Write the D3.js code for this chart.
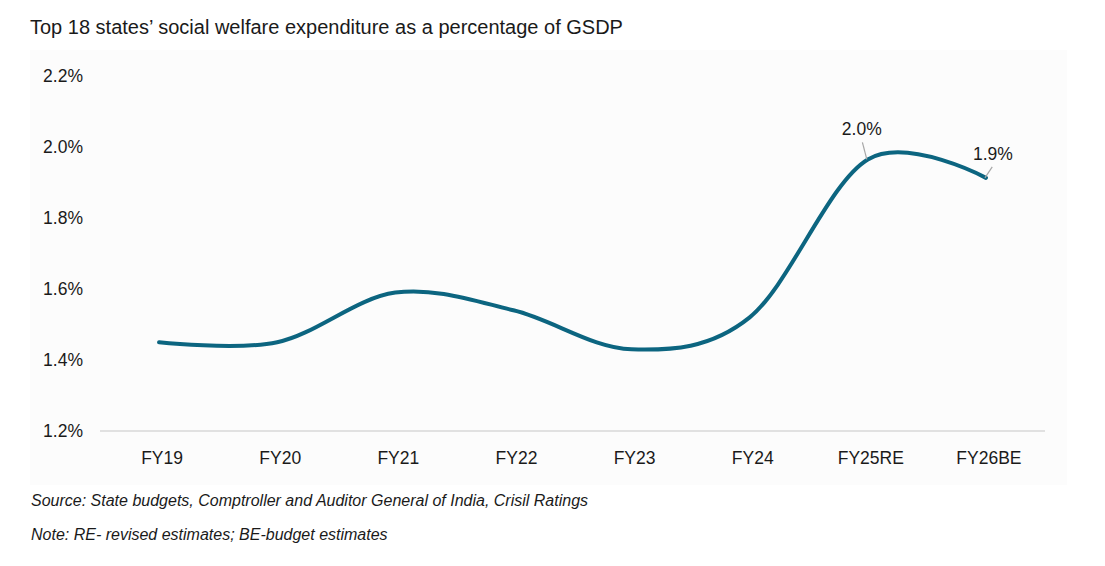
<!DOCTYPE html>
<html lang="en">
<head>
<meta charset="UTF-8" />
<title>Social welfare expenditure</title>
<style>
  html, body {
    margin: 0;
    padding: 0;
    background: #ffffff;
    font-family: Arial, "Liberation Sans", sans-serif;
  }
  svg text { font-family: Arial, "Liberation Sans", sans-serif; fill: #1a1a1a; }
  .grid line { stroke: #d9d9d9; stroke-width: 1.3px; }
  .line { fill: none; stroke: #0c6580; stroke-width: 4px; stroke-linecap: round; }
  .leader { stroke: #a6a6a6; stroke-width: 1.2px; }
</style>
</head>
<body>
<svg width="1105" height="566"></svg>

<script src="https://d3js.org/d3.v7.min.js"></script>
<script>
// data
const years = ["FY19", "FY20", "FY21", "FY22", "FY23", "FY24", "FY25RE", "FY26BE"];
const welfarePct = [1.45, 1.45, 1.59, 1.54, 1.43, 1.52, 1.965, 1.913];
const yTicks = [1.2, 1.4, 1.6, 1.8, 2.0, 2.2];
const labelled = [6, 7]; // points that carry a value label

const svg = d3.select("svg");

// light panel behind the chart
svg.append("rect")
  .attr("x", 30).attr("y", 50)
  .attr("width", 1037).attr("height", 435)
  .attr("fill", "#fcfcfc");

svg.append("text")
  .attr("x", 30).attr("y", 34)
  .attr("font-size", "20px")
  .text("Top 18 states\u2019 social welfare expenditure as a percentage of GSDP");

const x = d3.scaleBand().domain(years).range([100, 1045]);
const y = d3.scaleLinear().domain([1.2, 2.2]).range([431, 76]);

// baseline only
svg.append("g").attr("class", "grid")
  .append("line")
  .attr("x1", 100).attr("x2", 1045)
  .attr("y1", y(1.2)).attr("y2", y(1.2));

// y tick labels
const yAxis = d3.axisLeft(y).tickValues(yTicks).tickFormat(d => d.toFixed(1) + "%").tickSize(0).tickPadding(0);
svg.append("g")
  .attr("transform", "translate(83,0)")
  .call(yAxis)
  .call(g => g.select(".domain").remove())
  .call(g => g.selectAll("text").attr("font-size", "17.5px").attr("fill", "#1a1a1a").attr("font-family", null));

// x tick labels
const xAxis = d3.axisBottom(x).tickSize(0).tickPadding(0);
svg.append("g")
  .attr("transform", "translate(3,452)")
  .call(xAxis)
  .call(g => g.select(".domain").remove())
  .call(g => g.selectAll("text").attr("font-size", "17.5px").attr("fill", "#1a1a1a").attr("font-family", null));

const pts = years.map((yr, i) => [x(yr) + x.bandwidth() / 2, y(welfarePct[i])]);

svg.append("path")
  .datum(pts)
  .attr("class", "line")
  .attr("d", d3.line().curve(d3.curveCatmullRom.alpha(0)));

// value labels with short leader lines
const labelOffsets = { 6: [-6, -22], 7: [7, -16] };
labelled.forEach(i => {
  const [px, py] = pts[i];
  const [dx, dy] = labelOffsets[i];
  svg.append("line").attr("class", "leader")
    .attr("x1", px - 1).attr("y1", py)
    .attr("x2", px + dx * 0.9).attr("y2", py + dy + 5);
  svg.append("text")
    .attr("x", px + dx).attr("y", py + dy - 2)
    .attr("text-anchor", "middle")
    .attr("font-size", "17.5px")
    .text(welfarePct[i].toFixed(1) + "%");
});

// footnotes
svg.append("text")
  .attr("x", 31).attr("y", 506)
  .attr("font-size", "16px").attr("font-style", "italic")
  .text("Source: State budgets, Comptroller and Auditor General of India, Crisil Ratings");
svg.append("text")
  .attr("x", 31).attr("y", 540)
  .attr("font-size", "16px").attr("font-style", "italic")
  .text("Note: RE- revised estimates; BE-budget estimates");
</script>
</body>
</html>
